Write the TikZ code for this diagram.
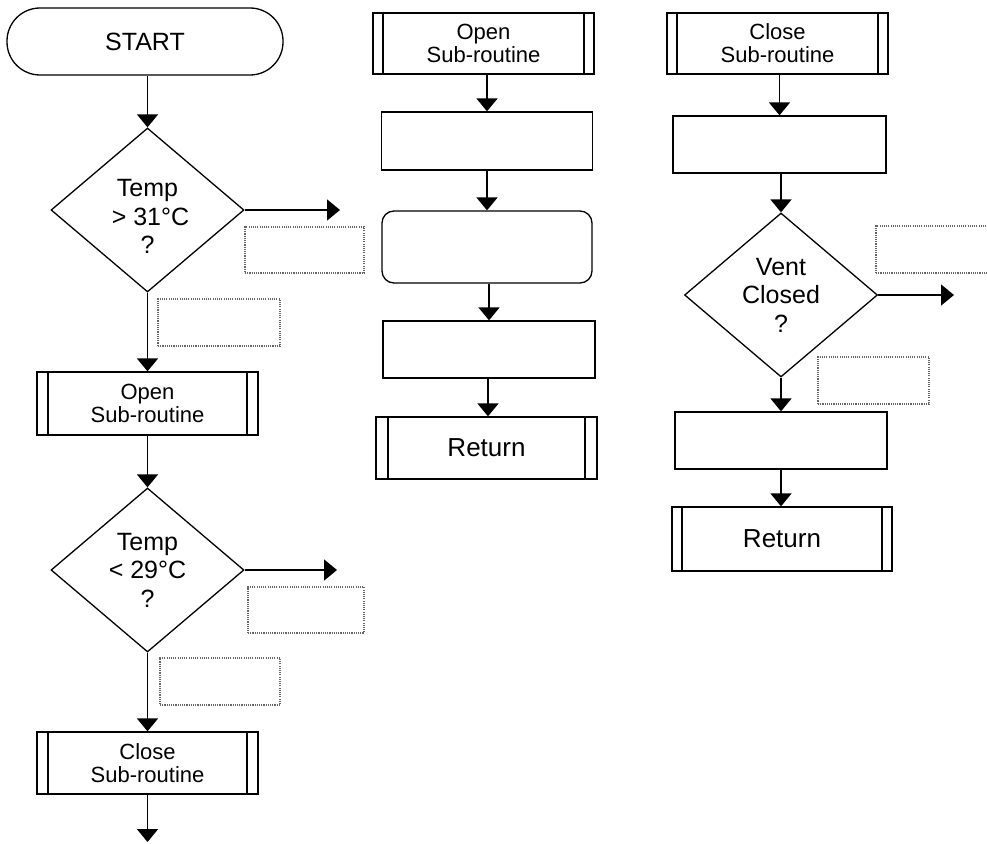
\documentclass[tikz,border=0pt]{standalone}
\usepackage{fontspec}
\setmainfont{Liberation Sans}
\usetikzlibrary{shapes.geometric,arrows.meta}
\begin{document}
\begin{tikzpicture}[x=1pt,y=-1pt,
  base/.style={draw=black, line width=1.3pt, inner sep=0pt, align=center},
  term/.style={base, rounded corners=33pt, font=\fontsize{25}{29}\selectfont},
  proc/.style={base},
  rproc/.style={base, rounded corners=12pt},
  dec/.style={base, diamond, aspect=1.18, minimum width=193pt, minimum height=164pt, font=\fontsize{25}{28.5}\selectfont},
  subr/.style={base, font=\fontsize{22}{23}\selectfont,
    path picture={
      \draw[line width=1.3pt] ([xshift=#1]path picture bounding box.north west) -- ([xshift=#1]path picture bounding box.south west);
      \draw[line width=1.3pt] ([xshift=-#1]path picture bounding box.north east) -- ([xshift=-#1]path picture bounding box.south east);
    }},
  subr/.default=11pt,
  note/.style={draw=black!60, dash pattern=on 1.1pt off 1.1pt, line width=1.1pt, inner sep=0pt},
  arr/.style={-{Triangle[length=13pt,width=21pt]}, line width=1.7pt, black}
]
\useasboundingbox (0,0) rectangle (987,843);

% ---------- left column ----------
\node[term, minimum width=276pt, minimum height=67pt] (start) at (145,41.5) {START};
\node[dec] (d1) at (147.5,210) {\rule{0pt}{30pt}Temp\\\hspace{6pt}> 31\textdegree C\\?};
\coordinate (e1) at (340,210);
\node[note, minimum width=119pt, minimum height=46pt] (n1) at (304.5,250) {};
\node[note, minimum width=122pt, minimum height=47pt] (n2) at (219,322.5) {};
\node[subr, minimum width=221pt, minimum height=63pt] (open1) at (147.5,403.5) {Open\\Sub-routine};
\node[dec] (d2) at (147.5,570) {Temp\\< 29\textdegree C\\?};
\coordinate (e2) at (337,570);
\node[note, minimum width=116pt, minimum height=46pt] (n3) at (306,610) {};
\node[note, minimum width=120pt, minimum height=47pt] (n4) at (220,681.5) {};
\node[subr, minimum width=221pt, minimum height=62pt] (close1) at (147.5,763) {Close\\Sub-routine};
\coordinate (e3) at (147.5,842);

\draw[arr] (start.south -| d1.north) -- (d1.north);
\draw[arr] (d1.east) -- (e1);
\draw[arr] (d1.south) -- (open1.north);
\draw[arr] (open1.south) -- (d2.north);
\draw[arr] (d2.east) -- (e2);
\draw[arr] (d2.south) -- (close1.north);
\draw[arr] (close1.south) -- (e3);

% ---------- middle column ----------
\node[subr=10pt, minimum width=221pt, minimum height=61pt] (open2) at (483.5,43.5) {Open\\Sub-routine};
\node[proc, minimum width=211pt, minimum height=58pt] (r1) at (487,141) {};
\node[rproc, minimum width=210pt, minimum height=72pt] (rr) at (487,247) {};
\node[proc, minimum width=212pt, minimum height=57pt] (r2) at (489,349.5) {};
\node[subr=12pt, minimum width=221pt, minimum height=62pt, font=\fontsize{26}{30}\selectfont] (ret1) at (486.5,448) {Return};

\draw[arr] (open2.south -| r1.north) -- (r1.north);
\draw[arr] (r1.south) -- (rr.north);
\draw[arr] (rr.south -| r2.north) -- (r2.north);
\draw[arr] (r2.south -| ret1.north) ++(1.5,0) coordinate (t1) (t1) -- (t1 |- ret1.north);

% ---------- right column ----------
\node[subr=10pt, minimum width=221pt, minimum height=61pt] (close2) at (777.5,43.5) {Close\\Sub-routine};
\node[proc, minimum width=213pt, minimum height=57pt] (r3) at (779.5,144.5) {};
\node[dec] (d3) at (781,295) {Vent\\Closed\\?};
\coordinate (e4) at (954,295);
\node[note, minimum width=124pt, minimum height=47pt] (n5) at (938,249.5) {};
\node[note, minimum width=111pt, minimum height=47pt] (n6) at (873.5,380.5) {};
\node[proc, minimum width=212pt, minimum height=57pt] (r4) at (781,440.5) {};
\node[subr=10pt, minimum width=220pt, minimum height=64pt, font=\fontsize{26}{30}\selectfont] (ret2) at (782,539) {Return};

\draw[arr] (close2.south -| r3.north) -- (r3.north);
\draw[arr] (r3.south -| d3.north) -- (d3.north);
\draw[arr] (d3.east) -- (e4);
\draw[arr] (d3.south) -- (r4.north);
\draw[arr] (r4.south) -- (r4.south |- ret2.north);
\end{tikzpicture}
\end{document}
